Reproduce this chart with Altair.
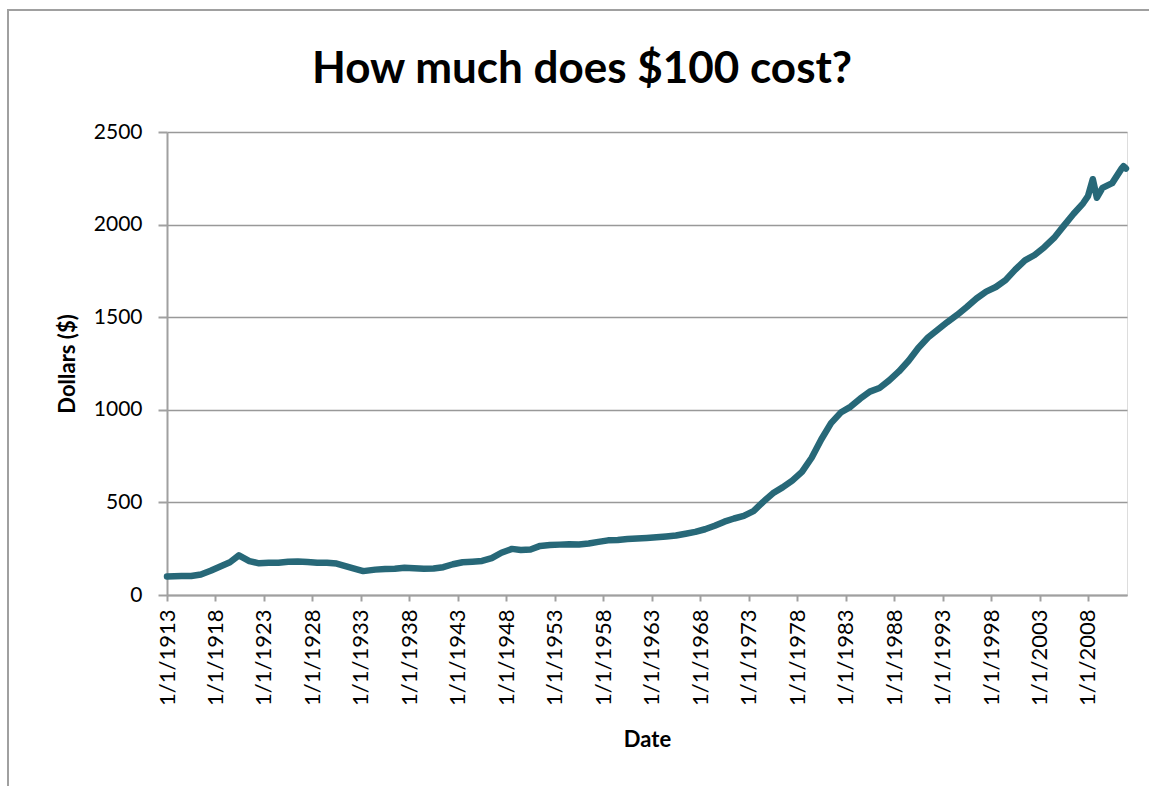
import altair as alt
import pandas as pd

# Month (YYYY-MM) and what $100 of January 1913 costs (dollars)
dates = [
    "1913-01", "1914-07", "1915-07", "1916-07", "1917-07", "1918-07", "1919-07",
    "1920-06", "1921-07", "1922-07", "1923-07", "1924-07", "1925-07", "1926-07",
    "1927-07", "1928-07", "1929-07", "1930-07", "1931-07", "1932-07", "1933-04",
    "1934-07", "1935-07", "1936-07", "1937-07", "1938-07", "1939-07", "1940-07",
    "1941-07", "1942-07", "1943-07", "1944-07", "1945-07", "1946-07", "1947-07",
    "1948-08", "1949-07", "1950-07", "1951-07", "1952-07", "1953-07", "1954-07",
    "1955-07", "1956-07", "1957-07", "1958-07", "1959-07", "1960-07", "1961-07",
    "1962-07", "1963-07", "1964-07", "1965-07", "1966-07", "1967-07", "1968-07",
    "1969-07", "1970-07", "1971-07", "1972-07", "1973-07", "1974-07", "1975-07",
    "1976-07", "1977-07", "1978-07", "1979-07", "1980-07", "1981-07", "1982-07",
    "1983-07", "1984-07", "1985-07", "1986-07", "1987-07", "1988-07", "1989-07",
    "1990-07", "1991-07", "1992-07", "1993-07", "1994-07", "1995-07", "1996-07",
    "1997-07", "1998-07", "1999-07", "2000-07", "2001-07", "2002-07", "2003-07",
    "2004-07", "2005-07", "2006-07", "2007-07", "2008-01", "2008-07", "2008-12",
    "2009-07", "2010-07", "2011-07", "2011-09", "2011-12",
]
dollars = [
    100, 102, 103, 111, 131, 154, 177,
    214, 183, 171, 174, 174, 179, 181,
    178, 174, 174, 170, 155, 140, 129,
    137, 140, 142, 147, 144, 142, 143,
    150, 166, 177, 180, 184, 199, 228,
    249, 243, 246, 265, 270, 272, 274,
    273, 278, 287, 295, 297, 302, 305,
    308, 312, 316, 321, 331, 341, 355,
    374, 396, 413, 427, 453, 503, 549,
    581, 618, 665, 741, 841, 928, 985,
    1016, 1060, 1098, 1118, 1159, 1207, 1265,
    1334, 1390, 1432, 1474, 1512, 1555, 1601,
    1638, 1663, 1700, 1757, 1807, 1836, 1878,
    1928, 1993, 2057, 2115, 2154, 2245, 2145,
    2198, 2224, 2305, 2315, 2303,
]
tick_years = list(range(1913, 2009, 5))
y_ticks = [0, 500, 1000, 1500, 2000, 2500]
chart_title = "How much does $100 cost?"

df = pd.DataFrame({"date": [d + "-01" for d in dates], "dollars": dollars})
one = pd.DataFrame({"t": [chart_title]})

FONT = "Lato"
GRAY = "#a0a0a0"

x_scale = alt.Scale(
    type="utc",
    domain=[alt.DateTime(year=1913, month=1, date=1, utc=True),
            alt.DateTime(year=2012, month=1, date=10, utc=True)],
)

line = alt.Chart(df).mark_line(color="#276878", strokeWidth=6.5, strokeJoin="round", strokeCap="round").encode(
    x=alt.X(
        "date:T",
        scale=x_scale,
        title="Date",
        axis=alt.Axis(
            values=[alt.DateTime(year=y, month=1, date=1, utc=True) for y in tick_years],
            labelExpr="utcFormat(datum.value, '%-m/%-d/%Y')",
            labelAngle=270,
            labelFontSize=22,
            labelPadding=8,
            labelFont=FONT,
            labelColor="#000000",
            tickSize=6,
            tickColor=GRAY,
            tickWidth=2,
            domainColor=GRAY,
            domainWidth=2,
            grid=False,
            titleFont=FONT,
            titleFontSize=22,
            titleFontWeight="bold",
            titleColor="#000000",
            titlePadding=24,
            labelOverlap=False,
        ),
    ),
    y=alt.Y(
        "dollars:Q",
        scale=alt.Scale(domain=[0, 2500], nice=False),
        title="Dollars ($)",
        axis=alt.Axis(
            values=y_ticks,
            format="d",
            labelFontSize=21,
            labelPadding=16,
            labelFont=FONT,
            labelColor="#000000",
            tickSize=9,
            tickColor=GRAY,
            tickWidth=2,
            domainColor=GRAY,
            domainWidth=2,
            grid=True,
            gridColor="#999999",
            gridWidth=1.6,
            titleFont=FONT,
            titleFontSize=22,
            titleFontWeight="bold",
            titleColor="#000000",
            titlePadding=14,
        ),
    ),
)

frame = alt.Chart(one).mark_rect(filled=False, stroke=GRAY, strokeWidth=2).encode(
    x=alt.value(-159), x2=alt.value(1100), y=alt.value(-122), y2=alt.value(800)
)

title = alt.Chart(one).mark_text(
    font=FONT, fontSize=44, fontWeight="bold", color="#000000",
    align="center", baseline="alphabetic",
).encode(
    text="t:N", x=alt.value(415), y=alt.value(-49)
)

chart = alt.layer(frame, line, title).properties(
    width=960,
    height=463,
    autosize=alt.AutoSizeParams(type="none"),
    padding={"left": 167, "top": 132, "right": 22, "bottom": 191},
).configure_view(stroke=None).configure(background="white")

chart.save("out.html", embed_options={"renderer": "svg", "actions": False})
